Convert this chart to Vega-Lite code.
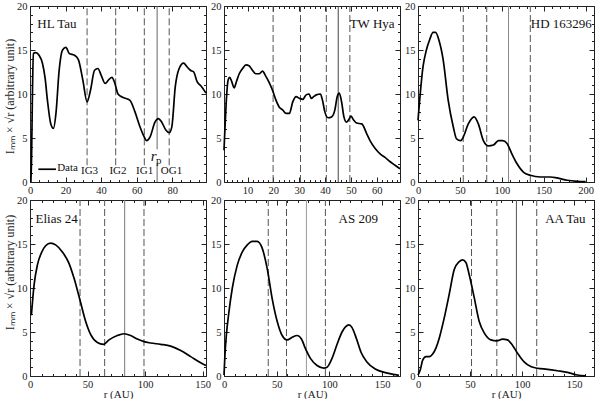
{
  "$schema": "https://vega.github.io/schema/vega-lite/v6.json",
  "padding": {"left": 2, "top": 0, "right": 4, "bottom": 0},
  "autosize": {"type": "pad"},
  "background": "white",
  "config": {
    "font": "Liberation Serif",
    "view": {"stroke": "#222", "strokeWidth": 1},
    "axis": {"grid": false, "domain": false, "ticks": true, "tickColor": "#222", "tickWidth": 1, "labelFont": "Liberation Serif", "labelFontSize": 10.5, "labelColor": "#222", "titleFont": "Liberation Serif", "titleFontSize": 11, "titleFontWeight": "normal", "titleColor": "#222", "labelOverlap": false, "labelFlush": false}
  },
  "datasets": {
    "curves": [
      {"p":"HL","r":0.5,"v":0},{"p":"HL","r":0.9,"v":3},{"p":"HL","r":1.3,"v":9},{"p":"HL","r":1.9,"v":14.6},{"p":"HL","r":3.2,"v":14.7},{"p":"HL","r":5.1,"v":14.4},{"p":"HL","r":7,"v":13.5},{"p":"HL","r":8.5,"v":11.8},{"p":"HL","r":9.8,"v":9.3},{"p":"HL","r":11.7,"v":6.6},{"p":"HL","r":13.2,"v":6.1},{"p":"HL","r":14.6,"v":7.8},{"p":"HL","r":16.4,"v":12.7},{"p":"HL","r":18.3,"v":15.0},{"p":"HL","r":20.2,"v":15.3},{"p":"HL","r":22.1,"v":14.6},{"p":"HL","r":25,"v":14.4},{"p":"HL","r":27.2,"v":13.9},{"p":"HL","r":29.7,"v":11.6},{"p":"HL","r":32.1,"v":9.1},{"p":"HL","r":34,"v":10.4},{"p":"HL","r":36.3,"v":12.7},{"p":"HL","r":38.2,"v":12.9},{"p":"HL","r":40.1,"v":12.1},{"p":"HL","r":42.3,"v":11.2},{"p":"HL","r":44.2,"v":11.6},{"p":"HL","r":46.1,"v":11.9},{"p":"HL","r":47.6,"v":11.3},{"p":"HL","r":49.5,"v":10.0},{"p":"HL","r":52.4,"v":9.6},{"p":"HL","r":56.1,"v":9.3},{"p":"HL","r":59,"v":8.0},{"p":"HL","r":61.8,"v":6.3},{"p":"HL","r":64.3,"v":5.1},{"p":"HL","r":65.6,"v":4.7},{"p":"HL","r":67.5,"v":5.1},{"p":"HL","r":70.3,"v":6.8},{"p":"HL","r":72.2,"v":7.2},{"p":"HL","r":74.1,"v":6.8},{"p":"HL","r":76.4,"v":5.9},{"p":"HL","r":78.3,"v":5.6},{"p":"HL","r":79.8,"v":6.3},{"p":"HL","r":81.7,"v":10.8},{"p":"HL","r":83.9,"v":12.9},{"p":"HL","r":86.4,"v":13.5},{"p":"HL","r":88.3,"v":13.1},{"p":"HL","r":90.2,"v":12.7},{"p":"HL","r":92.1,"v":12.5},{"p":"HL","r":94,"v":11.4},{"p":"HL","r":96.2,"v":10.9},{"p":"HL","r":99,"v":10.1},
      {"p":"TW","r":0.9,"v":3.6},{"p":"TW","r":1.3,"v":6.3},{"p":"TW","r":1.8,"v":9.3},{"p":"TW","r":2.5,"v":11.6},{"p":"TW","r":3.1,"v":11.9},{"p":"TW","r":3.9,"v":11.4},{"p":"TW","r":4.8,"v":10.7},{"p":"TW","r":5.7,"v":11.4},{"p":"TW","r":6.8,"v":12.3},{"p":"TW","r":8.1,"v":12.9},{"p":"TW","r":9.4,"v":13.3},{"p":"TW","r":10.6,"v":13.2},{"p":"TW","r":11.9,"v":12.7},{"p":"TW","r":13.2,"v":12.3},{"p":"TW","r":14.5,"v":12.3},{"p":"TW","r":15.8,"v":12.6},{"p":"TW","r":17.1,"v":12.0},{"p":"TW","r":18.4,"v":11.3},{"p":"TW","r":19.7,"v":10.4},{"p":"TW","r":21,"v":9.3},{"p":"TW","r":22.3,"v":8.5},{"p":"TW","r":23.6,"v":8.2},{"p":"TW","r":24.9,"v":7.8},{"p":"TW","r":26.2,"v":7.8},{"p":"TW","r":27.5,"v":9.1},{"p":"TW","r":28.8,"v":9.7},{"p":"TW","r":30.1,"v":9.5},{"p":"TW","r":31.4,"v":9.4},{"p":"TW","r":32.7,"v":9.9},{"p":"TW","r":33.8,"v":10.0},{"p":"TW","r":34.7,"v":9.5},{"p":"TW","r":35.6,"v":9.7},{"p":"TW","r":36.6,"v":9.9},{"p":"TW","r":38.2,"v":10.0},{"p":"TW","r":39,"v":9.3},{"p":"TW","r":39.9,"v":8.0},{"p":"TW","r":41.2,"v":7.3},{"p":"TW","r":42.5,"v":7.4},{"p":"TW","r":43.8,"v":8.2},{"p":"TW","r":44.7,"v":9.7},{"p":"TW","r":45.5,"v":10.1},{"p":"TW","r":46.4,"v":9.1},{"p":"TW","r":47.3,"v":7.4},{"p":"TW","r":48.3,"v":6.8},{"p":"TW","r":49.4,"v":7.2},{"p":"TW","r":50,"v":7.5},{"p":"TW","r":50.9,"v":7.1},{"p":"TW","r":52.2,"v":6.7},{"p":"TW","r":54.2,"v":6.6},{"p":"TW","r":56.1,"v":5.5},{"p":"TW","r":57.4,"v":4.7},{"p":"TW","r":59.4,"v":3.8},{"p":"TW","r":61.3,"v":3.2},{"p":"TW","r":63.2,"v":2.8},{"p":"TW","r":65.2,"v":2.3},{"p":"TW","r":67.1,"v":1.9},{"p":"TW","r":69,"v":1.5},
      {"p":"HD","r":0,"v":7.0},{"p":"HD","r":2,"v":9.3},{"p":"HD","r":6,"v":13.1},{"p":"HD","r":10,"v":15.0},{"p":"HD","r":14,"v":16.2},{"p":"HD","r":18,"v":17.0},{"p":"HD","r":21,"v":17.0},{"p":"HD","r":25,"v":16.1},{"p":"HD","r":30,"v":13.9},{"p":"HD","r":36,"v":9.3},{"p":"HD","r":42,"v":6.3},{"p":"HD","r":46,"v":4.9},{"p":"HD","r":51,"v":4.7},{"p":"HD","r":54,"v":5.1},{"p":"HD","r":60,"v":6.6},{"p":"HD","r":67,"v":7.4},{"p":"HD","r":72,"v":6.6},{"p":"HD","r":78,"v":4.7},{"p":"HD","r":84,"v":4.1},{"p":"HD","r":90,"v":4.2},{"p":"HD","r":96,"v":4.7},{"p":"HD","r":101,"v":4.7},{"p":"HD","r":106,"v":4.4},{"p":"HD","r":112,"v":3.2},{"p":"HD","r":118,"v":2.1},{"p":"HD","r":126,"v":1.1},{"p":"HD","r":134,"v":0.76},{"p":"HD","r":146,"v":0.57},{"p":"HD","r":158,"v":0.57},{"p":"HD","r":166,"v":0.46},{"p":"HD","r":178,"v":0.2},{"p":"HD","r":190,"v":0.08},{"p":"HD","r":200,"v":0.04},
      {"p":"EL","r":1.2,"v":6.9},{"p":"EL","r":3.5,"v":10.3},{"p":"EL","r":6.4,"v":12.6},{"p":"EL","r":9.9,"v":14.0},{"p":"EL","r":13.6,"v":14.8},{"p":"EL","r":18,"v":15.1},{"p":"EL","r":22.3,"v":14.9},{"p":"EL","r":28.1,"v":14.1},{"p":"EL","r":33.9,"v":12.8},{"p":"EL","r":38.3,"v":11.1},{"p":"EL","r":43.5,"v":8.6},{"p":"EL","r":48.4,"v":6.2},{"p":"EL","r":52.8,"v":4.7},{"p":"EL","r":58.6,"v":3.8},{"p":"EL","r":63.8,"v":3.6},{"p":"EL","r":68.7,"v":4.1},{"p":"EL","r":75.9,"v":4.6},{"p":"EL","r":81.7,"v":4.8},{"p":"EL","r":87.5,"v":4.6},{"p":"EL","r":93.3,"v":4.2},{"p":"EL","r":99.1,"v":3.9},{"p":"EL","r":104.9,"v":3.75},{"p":"EL","r":113.6,"v":3.6},{"p":"EL","r":122.3,"v":3.4},{"p":"EL","r":131,"v":2.9},{"p":"EL","r":139.7,"v":2.2},{"p":"EL","r":148.4,"v":1.5},{"p":"EL","r":153,"v":1.2},
      {"p":"AS","r":0,"v":0.1},{"p":"AS","r":0.9,"v":2.4},{"p":"AS","r":2.2,"v":4.6},{"p":"AS","r":4.7,"v":7.3},{"p":"AS","r":7.9,"v":10.0},{"p":"AS","r":12.6,"v":12.6},{"p":"AS","r":17.4,"v":14.1},{"p":"AS","r":22.1,"v":14.9},{"p":"AS","r":26.8,"v":15.3},{"p":"AS","r":31.5,"v":15.3},{"p":"AS","r":36.3,"v":14.5},{"p":"AS","r":41,"v":12.2},{"p":"AS","r":45.7,"v":8.8},{"p":"AS","r":50.5,"v":6.2},{"p":"AS","r":55.2,"v":4.6},{"p":"AS","r":59.9,"v":4.1},{"p":"AS","r":64.7,"v":4.4},{"p":"AS","r":69.4,"v":4.6},{"p":"AS","r":73.5,"v":4.2},{"p":"AS","r":77.3,"v":3.1},{"p":"AS","r":82,"v":2.0},{"p":"AS","r":88.3,"v":1.2},{"p":"AS","r":94.6,"v":0.9},{"p":"AS","r":97.8,"v":1.0},{"p":"AS","r":102.5,"v":2.0},{"p":"AS","r":107.3,"v":3.6},{"p":"AS","r":112,"v":5.0},{"p":"AS","r":115.5,"v":5.6},{"p":"AS","r":118.5,"v":5.8},{"p":"AS","r":121.5,"v":5.5},{"p":"AS","r":125.5,"v":4.3},{"p":"AS","r":130,"v":2.7},{"p":"AS","r":135.6,"v":1.6},{"p":"AS","r":143.5,"v":0.8},{"p":"AS","r":153,"v":0.38},{"p":"AS","r":162.5,"v":0.15},{"p":"AS","r":166,"v":0.08},
      {"p":"AA","r":0,"v":0.1},{"p":"AA","r":2.2,"v":0.7},{"p":"AA","r":4.5,"v":1.8},{"p":"AA","r":7.7,"v":2.2},{"p":"AA","r":10.9,"v":2.2},{"p":"AA","r":14.1,"v":2.5},{"p":"AA","r":17.3,"v":3.2},{"p":"AA","r":20.4,"v":4.3},{"p":"AA","r":25.2,"v":6.6},{"p":"AA","r":30,"v":9.3},{"p":"AA","r":34.8,"v":12.1},{"p":"AA","r":39.6,"v":13.0},{"p":"AA","r":42.8,"v":13.2},{"p":"AA","r":46,"v":12.9},{"p":"AA","r":49.2,"v":11.5},{"p":"AA","r":54,"v":8.9},{"p":"AA","r":58.8,"v":6.2},{"p":"AA","r":63.6,"v":4.9},{"p":"AA","r":70,"v":4.1},{"p":"AA","r":75.7,"v":4.0},{"p":"AA","r":81.2,"v":4.2},{"p":"AA","r":85.9,"v":4.1},{"p":"AA","r":90.7,"v":3.5},{"p":"AA","r":95.5,"v":2.6},{"p":"AA","r":101.9,"v":1.6},{"p":"AA","r":108.3,"v":1.07},{"p":"AA","r":114.7,"v":0.88},{"p":"AA","r":124.3,"v":0.76},{"p":"AA","r":133.9,"v":0.6},{"p":"AA","r":143.5,"v":0.42},{"p":"AA","r":153,"v":0.11},{"p":"AA","r":161,"v":0.02}
    ],
    "vlines": [
      {"p":"HL","r":32.1,"t":"d","v0":1.9,"v1":20},{"p":"HL","r":48.2,"t":"d","v0":1.9,"v1":20},{"p":"HL","r":64.3,"t":"d","v0":1.9,"v1":20},{"p":"HL","r":78.3,"t":"d","v0":1.9,"v1":20},{"p":"HL","r":71.5,"t":"s","v0":0,"v1":2.2},{"p":"HL","r":71.5,"t":"s","v0":3.7,"v1":20},
      {"p":"TW","r":19.9,"t":"d","v0":0,"v1":20},{"p":"TW","r":30.5,"t":"d","v0":0,"v1":20},{"p":"TW","r":40.5,"t":"d","v0":0,"v1":20},{"p":"TW","r":49.6,"t":"d","v0":0,"v1":20},{"p":"TW","r":45.1,"t":"s","v0":0,"v1":20},
      {"p":"HD","r":54,"t":"d","v0":0,"v1":20},{"p":"HD","r":82,"t":"d","v0":0,"v1":20},{"p":"HD","r":134,"t":"d","v0":0,"v1":20},{"p":"HD","r":108,"t":"s","v0":0,"v1":20},
      {"p":"EL","r":43.5,"t":"d","v0":0,"v1":20},{"p":"EL","r":64.9,"t":"d","v0":0,"v1":20},{"p":"EL","r":99.1,"t":"d","v0":0,"v1":20},{"p":"EL","r":82.3,"t":"s","v0":0,"v1":20},
      {"p":"AS","r":42,"t":"d","v0":0,"v1":20},{"p":"AS","r":59.3,"t":"d","v0":0,"v1":20},{"p":"AS","r":96.2,"t":"d","v0":0,"v1":20},{"p":"AS","r":78.2,"t":"s","v0":0,"v1":20},
      {"p":"AA","r":51.4,"t":"d","v0":0,"v1":20},{"p":"AA","r":75.7,"t":"d","v0":0,"v1":20},{"p":"AA","r":114,"t":"d","v0":0,"v1":20},{"p":"AA","r":94.5,"t":"s","v0":0,"v1":20}
    ],
    "texts": [
      {"p":"HL","k":"t","r":15.1,"v":17.9,"s":"HL Tau"},
      {"p":"HL","k":"s","r":21.1,"v":1.55,"s":"Data"},
      {"p":"HL","k":"s","r":33.5,"v":1.25,"s":"IG3"},
      {"p":"HL","k":"s","r":49.5,"v":1.25,"s":"IG2"},
      {"p":"HL","k":"s","r":64.5,"v":1.25,"s":"IG1"},
      {"p":"HL","k":"s","r":79.6,"v":1.25,"s":"OG1"},
      {"p":"HL","k":"s","r":72.4,"v":2.4,"s":"p"},
      {"p":"HL","k":"i","r":69.6,"v":2.9,"s":"r"},
      {"p":"TW","k":"t","r":58.2,"v":17.9,"s":"TW Hya"},
      {"p":"HD","k":"t","r":171,"v":17.9,"s":"HD 163296"},
      {"p":"EL","k":"t","r":23.2,"v":17.8,"s":"Elias 24"},
      {"p":"AS","k":"t","r":127.4,"v":17.8,"s":"AS 209"},
      {"p":"AA","k":"t","r":141.5,"v":17.8,"s":"AA Tau"}
    ],
    "legend": [{"p":"HL","r":4.7,"r2":14.6,"v":1.45}]
  },
  "columns": 3,
  "spacing": {"row": 18, "column": 18},
  "bounds": "flush",
  "concat": [
    {
      "width": 176, "height": 176,
      "resolve": {"axis": {"x": "independent", "y": "independent"}},
      "layer": [
        {"data": {"name": "vlines"}, "transform": [{"filter": "datum.p === 'HL' && datum.t === 'd'"}],
         "mark": {"type": "rule", "strokeWidth": 1, "color": "#555", "strokeDash": [7, 3]},
         "encoding": {
           "x": {"field": "r", "type": "quantitative", "scale": {"domain": [0, 99], "nice": false, "zero": false},
                 "axis": {"orient": "top", "offset": -5, "tickSize": 5, "title": null, "labels": false, "values": [0,20,40,60,80]}},
           "y": {"field": "v0", "type": "quantitative", "scale": {"domain": [0, 20], "nice": false},
                 "axis": {"orient": "right", "offset": -5, "tickSize": 5, "title": null, "labels": false, "values": [0,5,10,15,20]}},
           "y2": {"field": "v1"}
         }},
        {"data": {"name": "vlines"}, "transform": [{"filter": "datum.p === 'HL' && datum.t === 's'"}],
         "mark": {"type": "rule", "strokeWidth": 1, "color": "#666"},
         "encoding": {
           "x": {"field": "r", "type": "quantitative", "scale": {"domain": [0, 99], "nice": false, "zero": false},
                 "axis": {"orient": "top", "offset": -2.5, "tickSize": 2.5, "title": null, "labels": false, "values": [0,5,10,15,20,25,30,35,40,45,50,55,60,65,70,75,80,85,90,95]}},
           "y": {"field": "v0", "type": "quantitative", "scale": {"domain": [0, 20], "nice": false},
                 "axis": {"orient": "right", "offset": -2.5, "tickSize": 2.5, "title": null, "labels": false, "values": [0,1,2,3,4,5,6,7,8,9,10,11,12,13,14,15,16,17,18,19,20]}},
           "y2": {"field": "v1"}
         }},
        {"data": {"name": "curves"}, "transform": [{"filter": "datum.p === 'HL'"}],
         "mark": {"type": "line", "interpolate": "monotone", "color": "#000", "strokeWidth": 1.7},
         "encoding": {
           "x": {"field": "r", "type": "quantitative", "scale": {"domain": [0, 99], "nice": false, "zero": false},
                 "axis": {"orient": "bottom", "offset": -5, "tickSize": 5, "labelPadding": 3.5, "title": null, "values": [0,20,40,60,80]}},
           "y": {"field": "v", "type": "quantitative", "scale": {"domain": [0, 20], "nice": false},
                 "axis": {"orient": "left", "offset": -5, "tickSize": 5, "labelPadding": 3, "title": "Iₘₘ × √r   (arbitrary unit)", "titleFontSize": 12, "titleX": -19, "titleY": 90, "titleAlign": "center", "values": [0,5,10,15,20]}}
         }},
        {"data": {"name": "legend"}, "transform": [{"filter": "datum.p === 'HL'"}],
         "mark": {"type": "rule", "color": "#000", "strokeWidth": 1.7},
         "encoding": {
           "x": {"field": "r", "type": "quantitative", "scale": {"domain": [0, 99], "nice": false, "zero": false}, "axis": null},
           "x2": {"field": "r2"},
           "y": {"field": "v", "type": "quantitative", "scale": {"domain": [0, 20], "nice": false}, "axis": null}
         }},
        {"data": {"name": "texts"}, "transform": [{"filter": "datum.p === 'HL' && datum.k === 't'"}],
         "mark": {"type": "text", "fontSize": 13, "align": "center", "baseline": "middle", "color": "#111"},
         "encoding": {
           "x": {"field": "r", "type": "quantitative", "scale": {"domain": [0, 99], "nice": false, "zero": false},
                 "axis": {"orient": "bottom", "offset": -2.5, "tickSize": 2.5, "labels": false, "title": null, "values": [0,5,10,15,20,25,30,35,40,45,50,55,60,65,70,75,80,85,90,95]}},
           "y": {"field": "v", "type": "quantitative", "scale": {"domain": [0, 20], "nice": false},
                 "axis": {"orient": "left", "offset": -2.5, "tickSize": 2.5, "labels": false, "title": null, "values": [0,1,2,3,4,5,6,7,8,9,10,11,12,13,14,15,16,17,18,19,20]}},
           "text": {"field": "s"}
         }},
        {"data": {"name": "texts"}, "transform": [{"filter": "datum.p === 'HL' && datum.k === 's'"}],
         "mark": {"type": "text", "fontSize": 11, "align": "center", "baseline": "middle", "color": "#111"},
         "encoding": {
           "x": {"field": "r", "type": "quantitative", "scale": {"domain": [0, 99], "nice": false, "zero": false}, "axis": null},
           "y": {"field": "v", "type": "quantitative", "scale": {"domain": [0, 20], "nice": false}, "axis": null},
           "text": {"field": "s"}
         }},
        {"data": {"name": "texts"}, "transform": [{"filter": "datum.p === 'HL' && datum.k === 'i'"}],
         "mark": {"type": "text", "fontSize": 15, "fontStyle": "italic", "align": "center", "baseline": "middle", "color": "#111"},
         "encoding": {
           "x": {"field": "r", "type": "quantitative", "scale": {"domain": [0, 99], "nice": false, "zero": false}, "axis": null},
           "y": {"field": "v", "type": "quantitative", "scale": {"domain": [0, 20], "nice": false}, "axis": null},
           "text": {"field": "s"}
         }}
      ]
    },
    {
      "width": 176, "height": 176,
      "resolve": {"axis": {"x": "independent", "y": "independent"}},
      "layer": [
        {"data": {"name": "vlines"}, "transform": [{"filter": "datum.p === 'TW' && datum.t === 'd'"}],
         "mark": {"type": "rule", "strokeWidth": 1, "color": "#555", "strokeDash": [7, 3]},
         "encoding": {
           "x": {"field": "r", "type": "quantitative", "scale": {"domain": [0.9, 69], "nice": false, "zero": false},
                 "axis": {"orient": "top", "offset": -5, "tickSize": 5, "title": null, "labels": false, "values": [10,20,30,40,50,60]}},
           "y": {"field": "v0", "type": "quantitative", "scale": {"domain": [0, 20], "nice": false},
                 "axis": {"orient": "right", "offset": -5, "tickSize": 5, "title": null, "labels": false, "values": [0,5,10,15,20]}},
           "y2": {"field": "v1"}
         }},
        {"data": {"name": "vlines"}, "transform": [{"filter": "datum.p === 'TW' && datum.t === 's'"}],
         "mark": {"type": "rule", "strokeWidth": 1, "color": "#444"},
         "encoding": {
           "x": {"field": "r", "type": "quantitative", "scale": {"domain": [0.9, 69], "nice": false, "zero": false},
                 "axis": {"orient": "top", "offset": -2.5, "tickSize": 2.5, "title": null, "labels": false, "values": [2,4,6,8,10,12,14,16,18,20,22,24,26,28,30,32,34,36,38,40,42,44,46,48,50,52,54,56,58,60,62,64,66,68]}},
           "y": {"field": "v0", "type": "quantitative", "scale": {"domain": [0, 20], "nice": false},
                 "axis": {"orient": "right", "offset": -2.5, "tickSize": 2.5, "title": null, "labels": false, "values": [0,1,2,3,4,5,6,7,8,9,10,11,12,13,14,15,16,17,18,19,20]}},
           "y2": {"field": "v1"}
         }},
        {"data": {"name": "curves"}, "transform": [{"filter": "datum.p === 'TW'"}],
         "mark": {"type": "line", "interpolate": "monotone", "color": "#000", "strokeWidth": 1.7},
         "encoding": {
           "x": {"field": "r", "type": "quantitative", "scale": {"domain": [0.9, 69], "nice": false, "zero": false},
                 "axis": {"orient": "bottom", "offset": -5, "tickSize": 5, "labelPadding": 3.5, "title": null, "values": [10,20,30,40,50,60]}},
           "y": {"field": "v", "type": "quantitative", "scale": {"domain": [0, 20], "nice": false},
                 "axis": {"orient": "left", "offset": -5, "tickSize": 5, "labelPadding": 3, "title": null, "values": [0,5,10,15,20]}}
         }},
        {"data": {"name": "texts"}, "transform": [{"filter": "datum.p === 'TW'"}],
         "mark": {"type": "text", "fontSize": 13, "align": "center", "baseline": "middle", "color": "#111"},
         "encoding": {
           "x": {"field": "r", "type": "quantitative", "scale": {"domain": [0.9, 69], "nice": false, "zero": false},
                 "axis": {"orient": "bottom", "offset": -2.5, "tickSize": 2.5, "labels": false, "title": null, "values": [2,4,6,8,10,12,14,16,18,20,22,24,26,28,30,32,34,36,38,40,42,44,46,48,50,52,54,56,58,60,62,64,66,68]}},
           "y": {"field": "v", "type": "quantitative", "scale": {"domain": [0, 20], "nice": false},
                 "axis": {"orient": "left", "offset": -2.5, "tickSize": 2.5, "labels": false, "title": null, "values": [0,1,2,3,4,5,6,7,8,9,10,11,12,13,14,15,16,17,18,19,20]}},
           "text": {"field": "s"}
         }}
      ]
    },
    {
      "width": 176, "height": 176,
      "resolve": {"axis": {"x": "independent", "y": "independent"}},
      "layer": [
        {"data": {"name": "vlines"}, "transform": [{"filter": "datum.p === 'HD' && datum.t === 'd'"}],
         "mark": {"type": "rule", "strokeWidth": 1, "color": "#555", "strokeDash": [7, 3]},
         "encoding": {
           "x": {"field": "r", "type": "quantitative", "scale": {"domain": [0, 210], "nice": false, "zero": false},
                 "axis": {"orient": "top", "offset": -5, "tickSize": 5, "title": null, "labels": false, "values": [0,50,100,150,200]}},
           "y": {"field": "v0", "type": "quantitative", "scale": {"domain": [0, 20], "nice": false},
                 "axis": {"orient": "right", "offset": -5, "tickSize": 5, "title": null, "labels": false, "values": [0,5,10,15,20]}},
           "y2": {"field": "v1"}
         }},
        {"data": {"name": "vlines"}, "transform": [{"filter": "datum.p === 'HD' && datum.t === 's'"}],
         "mark": {"type": "rule", "strokeWidth": 1, "color": "#888"},
         "encoding": {
           "x": {"field": "r", "type": "quantitative", "scale": {"domain": [0, 210], "nice": false, "zero": false},
                 "axis": {"orient": "top", "offset": -2.5, "tickSize": 2.5, "title": null, "labels": false, "values": [0,10,20,30,40,50,60,70,80,90,100,110,120,130,140,150,160,170,180,190,200,210]}},
           "y": {"field": "v0", "type": "quantitative", "scale": {"domain": [0, 20], "nice": false},
                 "axis": {"orient": "right", "offset": -2.5, "tickSize": 2.5, "title": null, "labels": false, "values": [0,1,2,3,4,5,6,7,8,9,10,11,12,13,14,15,16,17,18,19,20]}},
           "y2": {"field": "v1"}
         }},
        {"data": {"name": "curves"}, "transform": [{"filter": "datum.p === 'HD'"}],
         "mark": {"type": "line", "interpolate": "monotone", "color": "#000", "strokeWidth": 1.7},
         "encoding": {
           "x": {"field": "r", "type": "quantitative", "scale": {"domain": [0, 210], "nice": false, "zero": false},
                 "axis": {"orient": "bottom", "offset": -5, "tickSize": 5, "labelPadding": 3.5, "title": null, "values": [0,50,100,150,200]}},
           "y": {"field": "v", "type": "quantitative", "scale": {"domain": [0, 20], "nice": false},
                 "axis": {"orient": "left", "offset": -5, "tickSize": 5, "labelPadding": 3, "title": null, "values": [0,5,10,15,20]}}
         }},
        {"data": {"name": "texts"}, "transform": [{"filter": "datum.p === 'HD'"}],
         "mark": {"type": "text", "fontSize": 13, "align": "center", "baseline": "middle", "color": "#111"},
         "encoding": {
           "x": {"field": "r", "type": "quantitative", "scale": {"domain": [0, 210], "nice": false, "zero": false},
                 "axis": {"orient": "bottom", "offset": -2.5, "tickSize": 2.5, "labels": false, "title": null, "values": [0,10,20,30,40,50,60,70,80,90,100,110,120,130,140,150,160,170,180,190,200,210]}},
           "y": {"field": "v", "type": "quantitative", "scale": {"domain": [0, 20], "nice": false},
                 "axis": {"orient": "left", "offset": -2.5, "tickSize": 2.5, "labels": false, "title": null, "values": [0,1,2,3,4,5,6,7,8,9,10,11,12,13,14,15,16,17,18,19,20]}},
           "text": {"field": "s"}
         }}
      ]
    },
    {
      "width": 176, "height": 176,
      "resolve": {"axis": {"x": "independent", "y": "independent"}},
      "layer": [
        {"data": {"name": "vlines"}, "transform": [{"filter": "datum.p === 'EL' && datum.t === 'd'"}],
         "mark": {"type": "rule", "strokeWidth": 1, "color": "#555", "strokeDash": [7, 3]},
         "encoding": {
           "x": {"field": "r", "type": "quantitative", "scale": {"domain": [0, 153], "nice": false, "zero": false},
                 "axis": {"orient": "top", "offset": -5, "tickSize": 5, "title": null, "labels": false, "values": [0,50,100,150]}},
           "y": {"field": "v0", "type": "quantitative", "scale": {"domain": [0, 20], "nice": false},
                 "axis": {"orient": "right", "offset": -5, "tickSize": 5, "title": null, "labels": false, "values": [0,5,10,15,20]}},
           "y2": {"field": "v1"}
         }},
        {"data": {"name": "vlines"}, "transform": [{"filter": "datum.p === 'EL' && datum.t === 's'"}],
         "mark": {"type": "rule", "strokeWidth": 1, "color": "#777"},
         "encoding": {
           "x": {"field": "r", "type": "quantitative", "scale": {"domain": [0, 153], "nice": false, "zero": false},
                 "axis": {"orient": "top", "offset": -2.5, "tickSize": 2.5, "title": null, "labels": false, "values": [0,10,20,30,40,50,60,70,80,90,100,110,120,130,140,150]}},
           "y": {"field": "v0", "type": "quantitative", "scale": {"domain": [0, 20], "nice": false},
                 "axis": {"orient": "right", "offset": -2.5, "tickSize": 2.5, "title": null, "labels": false, "values": [0,1,2,3,4,5,6,7,8,9,10,11,12,13,14,15,16,17,18,19,20]}},
           "y2": {"field": "v1"}
         }},
        {"data": {"name": "curves"}, "transform": [{"filter": "datum.p === 'EL'"}],
         "mark": {"type": "line", "interpolate": "monotone", "color": "#000", "strokeWidth": 1.7},
         "encoding": {
           "x": {"field": "r", "type": "quantitative", "scale": {"domain": [0, 153], "nice": false, "zero": false},
                 "axis": {"orient": "bottom", "offset": -5, "tickSize": 5, "labelPadding": 3.5, "title": "r (AU)", "titleY": 17.5, "titleBaseline": "top", "values": [0,50,100,150]}},
           "y": {"field": "v", "type": "quantitative", "scale": {"domain": [0, 20], "nice": false},
                 "axis": {"orient": "left", "offset": -5, "tickSize": 5, "labelPadding": 3, "title": "Iₘₘ × √r   (arbitrary unit)", "titleFontSize": 12, "titleX": -19, "titleY": 72, "titleAlign": "center", "values": [0,5,10,15,20]}}
         }},
        {"data": {"name": "texts"}, "transform": [{"filter": "datum.p === 'EL'"}],
         "mark": {"type": "text", "fontSize": 13, "align": "center", "baseline": "middle", "color": "#111"},
         "encoding": {
           "x": {"field": "r", "type": "quantitative", "scale": {"domain": [0, 153], "nice": false, "zero": false},
                 "axis": {"orient": "bottom", "offset": -2.5, "tickSize": 2.5, "labels": false, "title": null, "values": [0,10,20,30,40,50,60,70,80,90,100,110,120,130,140,150]}},
           "y": {"field": "v", "type": "quantitative", "scale": {"domain": [0, 20], "nice": false},
                 "axis": {"orient": "left", "offset": -2.5, "tickSize": 2.5, "labels": false, "title": null, "values": [0,1,2,3,4,5,6,7,8,9,10,11,12,13,14,15,16,17,18,19,20]}},
           "text": {"field": "s"}
         }}
      ]
    },
    {
      "width": 176, "height": 176,
      "resolve": {"axis": {"x": "independent", "y": "independent"}},
      "layer": [
        {"data": {"name": "vlines"}, "transform": [{"filter": "datum.p === 'AS' && datum.t === 'd'"}],
         "mark": {"type": "rule", "strokeWidth": 1, "color": "#555", "strokeDash": [7, 3]},
         "encoding": {
           "x": {"field": "r", "type": "quantitative", "scale": {"domain": [0, 167], "nice": false, "zero": false},
                 "axis": {"orient": "top", "offset": -5, "tickSize": 5, "title": null, "labels": false, "values": [0,50,100,150]}},
           "y": {"field": "v0", "type": "quantitative", "scale": {"domain": [0, 20], "nice": false},
                 "axis": {"orient": "right", "offset": -5, "tickSize": 5, "title": null, "labels": false, "values": [0,5,10,15,20]}},
           "y2": {"field": "v1"}
         }},
        {"data": {"name": "vlines"}, "transform": [{"filter": "datum.p === 'AS' && datum.t === 's'"}],
         "mark": {"type": "rule", "strokeWidth": 1, "color": "#999"},
         "encoding": {
           "x": {"field": "r", "type": "quantitative", "scale": {"domain": [0, 167], "nice": false, "zero": false},
                 "axis": {"orient": "top", "offset": -2.5, "tickSize": 2.5, "title": null, "labels": false, "values": [0,10,20,30,40,50,60,70,80,90,100,110,120,130,140,150,160]}},
           "y": {"field": "v0", "type": "quantitative", "scale": {"domain": [0, 20], "nice": false},
                 "axis": {"orient": "right", "offset": -2.5, "tickSize": 2.5, "title": null, "labels": false, "values": [0,1,2,3,4,5,6,7,8,9,10,11,12,13,14,15,16,17,18,19,20]}},
           "y2": {"field": "v1"}
         }},
        {"data": {"name": "curves"}, "transform": [{"filter": "datum.p === 'AS'"}],
         "mark": {"type": "line", "interpolate": "monotone", "color": "#000", "strokeWidth": 1.7},
         "encoding": {
           "x": {"field": "r", "type": "quantitative", "scale": {"domain": [0, 167], "nice": false, "zero": false},
                 "axis": {"orient": "bottom", "offset": -5, "tickSize": 5, "labelPadding": 3.5, "title": "r (AU)", "titleY": 17.5, "titleBaseline": "top", "values": [0,50,100,150]}},
           "y": {"field": "v", "type": "quantitative", "scale": {"domain": [0, 20], "nice": false},
                 "axis": {"orient": "left", "offset": -5, "tickSize": 5, "labelPadding": 3, "title": null, "values": [0,5,10,15,20]}}
         }},
        {"data": {"name": "texts"}, "transform": [{"filter": "datum.p === 'AS'"}],
         "mark": {"type": "text", "fontSize": 13, "align": "center", "baseline": "middle", "color": "#111"},
         "encoding": {
           "x": {"field": "r", "type": "quantitative", "scale": {"domain": [0, 167], "nice": false, "zero": false},
                 "axis": {"orient": "bottom", "offset": -2.5, "tickSize": 2.5, "labels": false, "title": null, "values": [0,10,20,30,40,50,60,70,80,90,100,110,120,130,140,150,160]}},
           "y": {"field": "v", "type": "quantitative", "scale": {"domain": [0, 20], "nice": false},
                 "axis": {"orient": "left", "offset": -2.5, "tickSize": 2.5, "labels": false, "title": null, "values": [0,1,2,3,4,5,6,7,8,9,10,11,12,13,14,15,16,17,18,19,20]}},
           "text": {"field": "s"}
         }}
      ]
    },
    {
      "width": 176, "height": 176,
      "resolve": {"axis": {"x": "independent", "y": "independent"}},
      "layer": [
        {"data": {"name": "vlines"}, "transform": [{"filter": "datum.p === 'AA' && datum.t === 'd'"}],
         "mark": {"type": "rule", "strokeWidth": 1, "color": "#555", "strokeDash": [7, 3]},
         "encoding": {
           "x": {"field": "r", "type": "quantitative", "scale": {"domain": [0, 169], "nice": false, "zero": false},
                 "axis": {"orient": "top", "offset": -5, "tickSize": 5, "title": null, "labels": false, "values": [0,50,100,150]}},
           "y": {"field": "v0", "type": "quantitative", "scale": {"domain": [0, 20], "nice": false},
                 "axis": {"orient": "right", "offset": -5, "tickSize": 5, "title": null, "labels": false, "values": [0,5,10,15,20]}},
           "y2": {"field": "v1"}
         }},
        {"data": {"name": "vlines"}, "transform": [{"filter": "datum.p === 'AA' && datum.t === 's'"}],
         "mark": {"type": "rule", "strokeWidth": 1, "color": "#555"},
         "encoding": {
           "x": {"field": "r", "type": "quantitative", "scale": {"domain": [0, 169], "nice": false, "zero": false},
                 "axis": {"orient": "top", "offset": -2.5, "tickSize": 2.5, "title": null, "labels": false, "values": [0,10,20,30,40,50,60,70,80,90,100,110,120,130,140,150,160]}},
           "y": {"field": "v0", "type": "quantitative", "scale": {"domain": [0, 20], "nice": false},
                 "axis": {"orient": "right", "offset": -2.5, "tickSize": 2.5, "title": null, "labels": false, "values": [0,1,2,3,4,5,6,7,8,9,10,11,12,13,14,15,16,17,18,19,20]}},
           "y2": {"field": "v1"}
         }},
        {"data": {"name": "curves"}, "transform": [{"filter": "datum.p === 'AA'"}],
         "mark": {"type": "line", "interpolate": "monotone", "color": "#000", "strokeWidth": 1.7},
         "encoding": {
           "x": {"field": "r", "type": "quantitative", "scale": {"domain": [0, 169], "nice": false, "zero": false},
                 "axis": {"orient": "bottom", "offset": -5, "tickSize": 5, "labelPadding": 3.5, "title": "r (AU)", "titleY": 17.5, "titleBaseline": "top", "values": [0,50,100,150]}},
           "y": {"field": "v", "type": "quantitative", "scale": {"domain": [0, 20], "nice": false},
                 "axis": {"orient": "left", "offset": -5, "tickSize": 5, "labelPadding": 3, "title": null, "values": [0,5,10,15,20]}}
         }},
        {"data": {"name": "texts"}, "transform": [{"filter": "datum.p === 'AA'"}],
         "mark": {"type": "text", "fontSize": 13, "align": "center", "baseline": "middle", "color": "#111"},
         "encoding": {
           "x": {"field": "r", "type": "quantitative", "scale": {"domain": [0, 169], "nice": false, "zero": false},
                 "axis": {"orient": "bottom", "offset": -2.5, "tickSize": 2.5, "labels": false, "title": null, "values": [0,10,20,30,40,50,60,70,80,90,100,110,120,130,140,150,160]}},
           "y": {"field": "v", "type": "quantitative", "scale": {"domain": [0, 20], "nice": false},
                 "axis": {"orient": "left", "offset": -2.5, "tickSize": 2.5, "labels": false, "title": null, "values": [0,1,2,3,4,5,6,7,8,9,10,11,12,13,14,15,16,17,18,19,20]}},
           "text": {"field": "s"}
         }}
      ]
    }
  ]
}
